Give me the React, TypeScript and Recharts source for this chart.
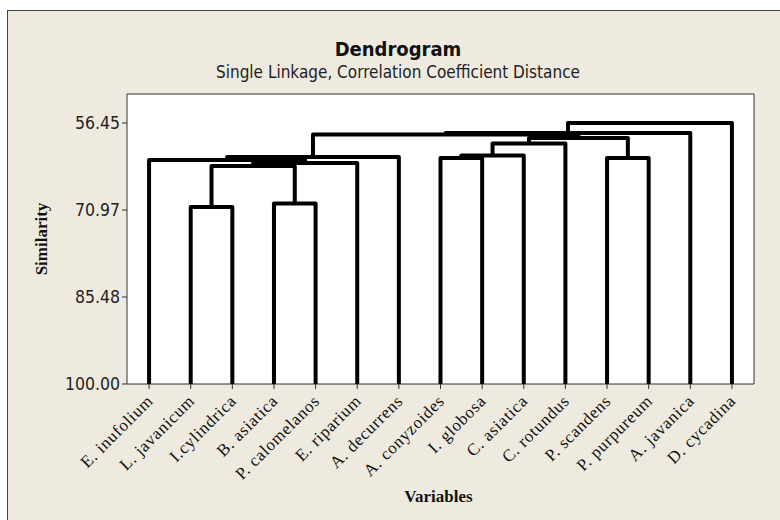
import React from 'react';
import { ComposedChart, Line, XAxis, YAxis, ReferenceArea } from 'recharts';

// Leaves in display order
const leaves = [
  'E. inufolium', 'L. javanicum', 'I.cylindrica', 'B. asiatica', 'P. calomelanos',
  'E. riparium', 'A. decurrens', 'A. conyzoides', 'I. globosa', 'C. asiatica',
  'C. rotundus', 'P. scandens', 'P. purpureum', 'A. javanica', 'D. cycadina',
];

// Merge steps: ids 0..14 are leaves, each merge creates id 15, 16, ...
const mergeLeft = [1, 3, 15, 17, 0, 19, 7, 21, 22, 11, 23, 20, 26, 27];
const mergeRight = [2, 4, 16, 5, 18, 6, 8, 9, 10, 12, 24, 25, 13, 14];
const mergeSimilarity = [70.47, 69.89, 63.63, 63.13, 62.63, 62.13, 62.29, 61.88, 59.87, 62.29, 58.95, 58.37, 58.12, 56.45];

const yTicks = [56.45, 70.97, 85.48, 100.0];
const xTicks = leaves.map((_, i) => i + 1);

type Pt = { x: number; y: number };

function buildLinks(): Pt[][] {
  const pos: number[] = leaves.map((_, i) => i + 1);
  const hgt: number[] = leaves.map(() => 100);
  const links: Pt[][] = [];
  mergeLeft.forEach((a, k) => {
    const b = mergeRight[k];
    const h = mergeSimilarity[k];
    links.push([
      { x: pos[a], y: hgt[a] },
      { x: pos[a], y: h },
      { x: pos[b], y: h },
      { x: pos[b], y: hgt[b] },
    ]);
    pos.push((pos[a] + pos[b]) / 2);
    hgt.push(h);
  });
  return links;
}

const links = buildLinks();

const SANS = "Tahoma, 'DejaVu Sans Condensed', 'DejaVu Sans', sans-serif";
const SERIF = "'Liberation Serif', 'Times New Roman', serif";

const LeafTick = (props: any) => {
  const { x, y, payload } = props;
  const tx = x + 5;
  const ty = y + 11;
  return (
    <text
      x={tx}
      y={ty}
      transform={`rotate(-45, ${tx}, ${ty})`}
      textAnchor="end"
      fontFamily={SERIF}
      fontSize={17}
      letterSpacing={0.7}
      fill="#111"
    >
      {leaves[payload.value - 1]}
    </text>
  );
};

const YTick = (props: any) => {
  const { x, y, payload } = props;
  return (
    <text x={x} y={y} dy={6} textAnchor="end" fontFamily={SANS} fontSize={17.5} fill="#222">
      {Number(payload.value).toFixed(2)}
    </text>
  );
};

export default function App() {
  return (
    <div style={{ position: 'absolute', left: 0, top: 0, width: 780, height: 520, background: '#ffffff', overflow: 'hidden' }}>
      <div
        style={{
          position: 'absolute', left: 7, top: 10, width: 800, height: 540,
          background: '#EEEAE0', borderLeft: '1px solid #444', borderTop: '1px solid #444',
        }}
      />
      <svg width={780} height={520} style={{ position: 'absolute', left: 0, top: 0 }}>
        <text x={398} y={56} textAnchor="middle" fontFamily={SANS} fontWeight="bold" fontSize={20} fill="#111">
          Dendrogram
        </text>
        <text x={398} y={78} textAnchor="middle" fontFamily={SANS} fontSize={17} fill="#222">
          Single Linkage, Correlation Coefficient Distance
        </text>
      </svg>
      <div style={{ position: 'absolute', left: 0, top: 0 }}>
        <ComposedChart width={780} height={520} margin={{ top: 94, right: 26, bottom: 0, left: 0 }}>
          <XAxis
            type="number"
            dataKey="x"
            domain={[0.47, 15.53]}
            allowDataOverflow
            ticks={xTicks}
            interval={0}
            height={136}
            axisLine={false}
            tickLine={{ stroke: '#333' }}
            tickSize={5}
            tick={<LeafTick />}
            label={{
              content: (p: any) => {
                const vb = p.viewBox || { x: 127, y: 384, width: 627 };
                return (
                  <text x={vb.x + vb.width / 2 - 2} y={vb.y + 118} textAnchor="middle" fontFamily={SERIF} fontWeight="bold" fontSize={17} fill="#111">
                    Variables
                  </text>
                );
              },
            }}
          />
          <YAxis
            type="number"
            dataKey="y"
            domain={[51.61, 100]}
            allowDataOverflow
            reversed
            ticks={yTicks}
            interval={0}
            width={127}
            axisLine={false}
            tickLine={{ stroke: '#333' }}
            tickSize={5}
            tick={<YTick />}
            label={{
              content: (p: any) => {
                const vb = p.viewBox || { x: 0, y: 94, height: 290 };
                const cx = 41;
                const cy = vb.y + vb.height / 2;
                return (
                  <text x={cx} y={cy} transform={`rotate(-90, ${cx}, ${cy})`} textAnchor="middle" dominantBaseline="central" fontFamily={SERIF} fontWeight="bold" fontSize={17} fill="#111">
                    Similarity
                  </text>
                );
              },
            }}
          />
          <ReferenceArea x1={0.47} x2={15.53} y1={51.61} y2={100} fill="#ffffff" fillOpacity={1} stroke="#333" strokeWidth={1} ifOverflow="visible" />
          {links.map((d, i) => (
            <Line
              key={i}
              data={d}
              dataKey="y"
              type="linear"
              stroke="#000"
              strokeWidth={4}
              strokeLinejoin="round"
              dot={false}
              activeDot={false}
              isAnimationActive={false}
            />
          ))}
        </ComposedChart>
      </div>
    </div>
  );
}
